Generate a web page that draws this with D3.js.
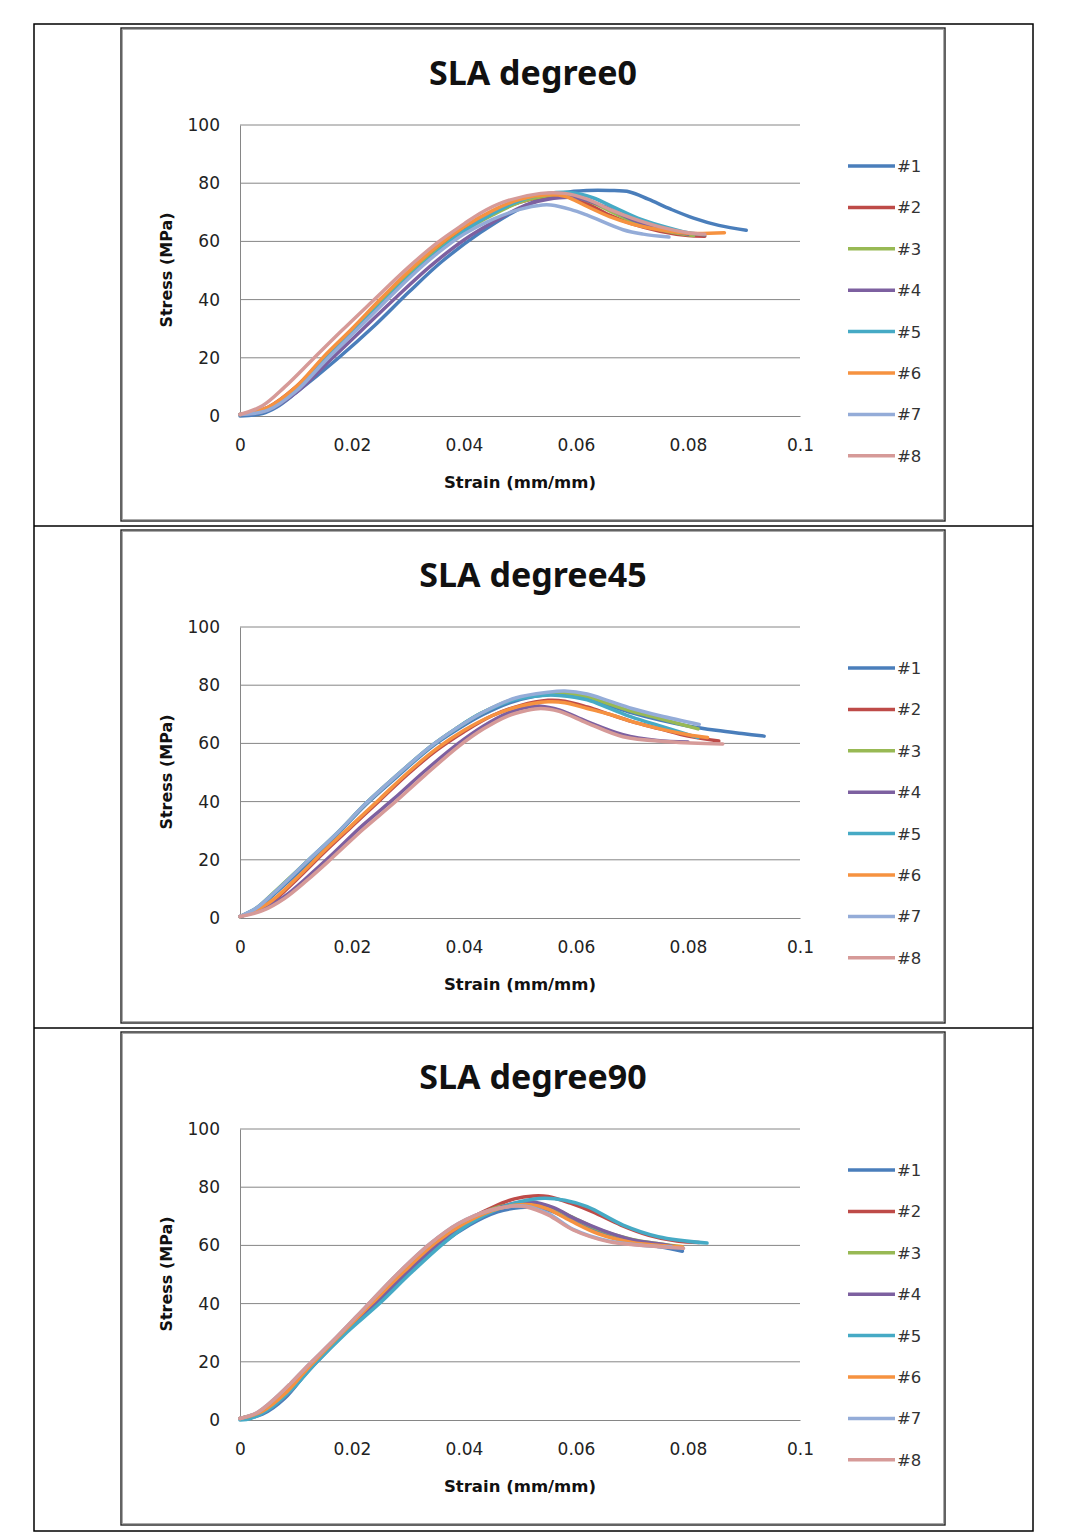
<!DOCTYPE html>
<html><head><meta charset="utf-8">
<script src="https://cdn.jsdelivr.net/npm/d3@7/dist/d3.min.js"></script>
<style>body{margin:0;background:#fff}svg{display:block}</style>
</head><body>
<svg id="c" width="1083" height="1534"></svg>
<script>
const titles = ["SLA degree0", "SLA degree45", "SLA degree90"];
const seriesNames = ["#1","#2","#3","#4","#5","#6","#7","#8"];
const seriesColors = ["#4A7EBB","#BE4B48","#98B954","#7D60A0","#46AAC5","#F69240","#94ACD8","#D69A98"];
const xTicks = [0, 0.02, 0.04, 0.06, 0.08, 0.1];
const yTicks = [0, 20, 40, 60, 80, 100];

// [strain, stress] pairs per specimen
const deg0 = [
 [[0,0],[0.004,0.8],[0.0065,3],[0.01,8],[0.0173,19.5],[0.024,31],[0.0301,42.5],[0.036,53],[0.0429,63],[0.0492,70.5],[0.0537,74.5],[0.058,76.8],[0.062,77.5],[0.066,77.5],[0.0696,77],[0.0729,74.5],[0.077,71],[0.081,68],[0.0855,65.5],[0.0904,63.8]],
 [[0,0.5],[0.005,3],[0.01,10],[0.015,20],[0.02,29.5],[0.025,39],[0.03,48.5],[0.035,57],[0.04,64],[0.045,69.5],[0.05,73.5],[0.055,75.5],[0.058,75.5],[0.062,73],[0.066,69],[0.07,66],[0.075,63.5],[0.08,62],[0.083,61.8]],
 [[0,0.5],[0.005,2.8],[0.01,9.5],[0.015,19.5],[0.02,29],[0.025,38.5],[0.03,48],[0.035,56.5],[0.04,63.5],[0.045,69],[0.05,73.5],[0.055,75.8],[0.058,76],[0.062,74],[0.066,70.5],[0.07,67],[0.075,64],[0.081,62]],
 [[0,0.5],[0.005,2],[0.01,8],[0.016,19],[0.022,30],[0.028,41],[0.034,51.5],[0.04,60.5],[0.046,67.5],[0.051,72.5],[0.055,74.5],[0.06,75],[0.065,72],[0.07,67.5],[0.075,64.5],[0.08,62.5]],
 [[0,0.5],[0.005,2.5],[0.01,9],[0.015,19],[0.02,28.5],[0.025,38],[0.03,47.5],[0.035,56],[0.04,63.5],[0.045,69.5],[0.05,74],[0.055,76.5],[0.059,76.8],[0.063,75],[0.067,71.5],[0.071,68],[0.075,65.5],[0.08,63],[0.083,62.3]],
 [[0,0.5],[0.005,3],[0.01,10],[0.015,20.5],[0.02,30],[0.025,40],[0.03,49.5],[0.035,58],[0.04,65],[0.045,70.5],[0.05,74.5],[0.055,76],[0.058,75.5],[0.062,72],[0.066,68.5],[0.07,66],[0.075,64],[0.08,62.8],[0.0865,63]],
 [[0,0.5],[0.005,2],[0.01,8.5],[0.015,18.5],[0.02,28],[0.025,37.5],[0.03,47],[0.035,55.5],[0.04,62.5],[0.045,67.5],[0.05,71],[0.054,72.5],[0.0555,72.5],[0.059,71],[0.062,69],[0.0684,64],[0.072,62.5],[0.0766,61.5]],
 [[0,0.5],[0.004,3.5],[0.008,10],[0.013,19.5],[0.018,29],[0.0237,39.5],[0.03,51],[0.0352,59.5],[0.04,66],[0.0429,69.7],[0.047,73.5],[0.0537,76.5],[0.058,76.5],[0.062,74.5],[0.066,71],[0.07,68],[0.075,65],[0.08,63],[0.083,62.5]]
];
const deg45 = [
 [[0,0.5],[0.003,3],[0.006,8],[0.0125,19.5],[0.0175,29],[0.0225,39],[0.028,48.5],[0.034,58.5],[0.039,65],[0.0435,70],[0.049,74.5],[0.054,76.5],[0.058,76.8],[0.062,75.5],[0.066,73],[0.07,70.5],[0.075,68],[0.08,66],[0.085,64.5],[0.09,63.3],[0.0936,62.5]],
 [[0,0.5],[0.005,4.5],[0.01,13],[0.015,22.5],[0.02,31.5],[0.025,40.5],[0.03,49.5],[0.035,57.5],[0.04,64],[0.045,69.5],[0.05,73],[0.055,74.8],[0.058,74.5],[0.062,72.5],[0.066,70],[0.07,67.5],[0.075,65],[0.08,62.5],[0.0855,60.8]],
 [[0,0.5],[0.003,3.5],[0.0059,8.5],[0.0123,20],[0.0175,29.5],[0.0225,39.4],[0.028,49],[0.034,58.9],[0.0385,65],[0.043,70.3],[0.049,75.3],[0.054,77],[0.057,77.5],[0.062,76],[0.066,73.5],[0.07,71],[0.075,68.5],[0.0818,65]],
 [[0,0.5],[0.004,3],[0.008,7.5],[0.012,14],[0.016,21],[0.022,32],[0.0275,41],[0.033,50.5],[0.039,60],[0.0435,66],[0.0479,70.5],[0.051,72.3],[0.0537,72.8],[0.057,71.5],[0.062,67.5],[0.0684,63],[0.0745,61],[0.08,60.5]],
 [[0,0.5],[0.003,3.5],[0.006,8.5],[0.0123,20],[0.0175,29.5],[0.0225,39.4],[0.028,49],[0.034,58.9],[0.0385,65],[0.043,70.3],[0.049,75],[0.054,76.5],[0.057,76.5],[0.062,75],[0.066,72],[0.07,69],[0.075,66],[0.0818,62]],
 [[0,0.5],[0.005,5],[0.01,13.5],[0.015,23],[0.02,32],[0.025,41],[0.03,50],[0.035,58],[0.04,64.5],[0.045,69.5],[0.05,72.8],[0.055,74.3],[0.058,74],[0.062,72],[0.066,70],[0.07,67.5],[0.075,65],[0.08,63],[0.0835,62]],
 [[0,0.5],[0.003,3.5],[0.006,8.5],[0.0123,20],[0.0175,29.5],[0.0225,39.4],[0.028,49],[0.034,58.9],[0.0385,65],[0.043,70.3],[0.0492,75.6],[0.055,77.6],[0.058,78],[0.062,77],[0.066,74.5],[0.07,72],[0.075,69.5],[0.082,66.5]],
 [[0,0.5],[0.004,2.5],[0.008,6.8],[0.012,13],[0.0161,20],[0.022,30.5],[0.0275,39.5],[0.033,49],[0.039,58.9],[0.0435,65],[0.0479,69.5],[0.051,71.2],[0.0537,72],[0.057,71],[0.062,67],[0.0684,62.3],[0.0766,60.6],[0.0862,59.8]]
];
const deg90 = [
 [[0,0.3],[0.004,2],[0.008,7.5],[0.013,19],[0.0185,29.5],[0.0245,40],[0.03,50],[0.036,60.5],[0.041,67],[0.046,71.5],[0.05,73],[0.053,73],[0.056,71.5],[0.06,68],[0.065,64],[0.07,61],[0.075,59.5],[0.079,58]],
 [[0,0.5],[0.004,3],[0.008,9],[0.012,17.5],[0.0175,28.5],[0.0235,40],[0.029,50.5],[0.035,61],[0.04,68],[0.045,73],[0.049,76],[0.0524,77],[0.055,76.8],[0.059,74.5],[0.063,71.5],[0.068,67],[0.073,63.5],[0.078,61.5],[0.082,61]],
 [[0,0.5],[0.004,3],[0.008,8.5],[0.012,17],[0.0175,28],[0.0235,39.5],[0.029,50],[0.035,60.5],[0.04,67.5],[0.045,72.5],[0.049,74.3],[0.052,74.5],[0.055,73.5],[0.059,70],[0.064,65.5],[0.07,62],[0.075,60.5],[0.079,59.5]],
 [[0,0.5],[0.004,2.5],[0.008,8],[0.012,16.5],[0.0175,27.5],[0.0235,39],[0.029,49.5],[0.035,60],[0.04,67],[0.045,72],[0.049,74.5],[0.052,75],[0.056,73],[0.06,69],[0.065,65],[0.07,62],[0.075,60.5],[0.078,59.5]],
 [[0,0],[0.002,0.6],[0.005,3.5],[0.009,10],[0.0135,19.5],[0.019,30],[0.025,40.2],[0.0305,50.5],[0.0364,60.8],[0.041,67.5],[0.046,72.5],[0.05,75],[0.0543,76.2],[0.058,75.5],[0.062,73.3],[0.0684,67],[0.0747,63],[0.0834,60.8]],
 [[0,0.5],[0.004,3],[0.008,9],[0.012,17.5],[0.0175,28.5],[0.0235,40],[0.029,50.5],[0.035,61],[0.04,67.5],[0.045,72],[0.049,73.8],[0.052,74],[0.055,72.5],[0.059,68.5],[0.064,64],[0.07,61],[0.075,60],[0.079,59.5]],
 [[0,0.5],[0.003,2.5],[0.006,7],[0.009,12.5],[0.012,18.5],[0.017,28],[0.0224,38.8],[0.028,50],[0.0339,60.5],[0.039,67.5],[0.0445,72],[0.049,73.5],[0.051,73.5],[0.055,71],[0.0595,65.5],[0.0658,61.5],[0.072,60],[0.077,59.5]],
 [[0,0.5],[0.003,2.5],[0.006,7],[0.009,12.5],[0.012,18.5],[0.017,28],[0.0224,38.8],[0.028,50],[0.0339,60.5],[0.039,67.5],[0.0445,72],[0.049,73.5],[0.051,73.3],[0.055,70.5],[0.0595,65.3],[0.0658,61.3],[0.072,60],[0.0792,59]]
];
const datasets = [deg0, deg45, deg90];

const svg = d3.select("#c");
const font = "'DejaVu Sans', 'Noto Sans', sans-serif";
const titleFont = "'Noto Sans', 'DejaVu Sans', sans-serif";

// outer table lines
const tbl = svg.append("g").attr("stroke", "#000").attr("stroke-width", 1.5).attr("fill", "none");
tbl.append("rect").attr("x", 34).attr("y", 24).attr("width", 999).attr("height", 1507);
[526, 1028].forEach(y => tbl.append("line").attr("x1", 34).attr("x2", 1033).attr("y1", y).attr("y2", y));

const panelTops = [27, 529, 1031];

panelTops.forEach((top, pi) => {
  const g = svg.append("g").attr("transform", `translate(0,${top})`);
  // chart box
  g.append("rect").attr("x", 121).attr("y", 1).attr("width", 824).attr("height", 493)
    .attr("fill", "#fff").attr("stroke", "#222").attr("stroke-width", 1.4);
  g.append("rect").attr("x", 122.5).attr("y", 2.5).attr("width", 821).attr("height", 490)
    .attr("fill", "none").attr("stroke", "#aaa").attr("stroke-width", 1);

  const x = d3.scaleLinear().domain([0, 0.1]).range([240, 800]);
  const y = d3.scaleLinear().domain([0, 100]).range([389, 98]);

  // gridlines
  g.append("g").selectAll("line").data(yTicks.filter(d => d > 0)).join("line")
    .attr("x1", 240).attr("x2", 800).attr("y1", d => y(d)).attr("y2", d => y(d))
    .attr("stroke", "#868686").attr("stroke-width", 1);

  // axes
  const ya = g.append("g").attr("transform", "translate(240,0)")
    .call(d3.axisLeft(y).tickValues(yTicks).tickSize(0).tickPadding(20));
  ya.select(".domain").attr("stroke", "#868686");
  const xa = g.append("g").attr("transform", `translate(0,${y(0)})`)
    .call(d3.axisBottom(x).tickValues(xTicks).tickSize(0).tickPadding(23).tickFormat(d3.format("~g")));
  xa.select(".domain").attr("stroke", "#868686");
  g.selectAll(".tick text").attr("font-family", font).attr("font-size", 17).attr("fill", "#222");

  // title
  g.append("text").attr("x", 533).attr("y", 58).attr("text-anchor", "middle")
    .attr("font-family", titleFont).attr("font-weight", "bold").attr("font-size", 34).attr("fill", "#111")
    .text(titles[pi]);
  // axis titles
  g.append("text").attr("x", 520).attr("y", 461).attr("text-anchor", "middle")
    .attr("font-family", font).attr("font-weight", "bold").attr("font-size", 16.5).attr("fill", "#111")
    .text("Strain (mm/mm)");
  g.append("text").attr("transform", "translate(172,243) rotate(-90)").attr("text-anchor", "middle")
    .attr("font-family", font).attr("font-weight", "bold").attr("font-size", 16).attr("fill", "#111")
    .text("Stress (MPa)");

  // lines
  const line = d3.line().x(d => x(d[0])).y(d => y(d[1])).curve(d3.curveCatmullRom.alpha(0.5));
  g.append("g").selectAll("path").data(datasets[pi]).join("path")
    .attr("d", line).attr("fill", "none")
    .attr("stroke", (d, i) => seriesColors[i]).attr("stroke-width", 3.5)
    .attr("stroke-linecap", "round").attr("stroke-linejoin", "round");

  // legend
  const lg = g.append("g").selectAll("g").data(seriesNames).join("g")
    .attr("transform", (d, i) => `translate(848,${139 + i * 41.4})`);
  lg.append("line").attr("x1", 0).attr("x2", 47).attr("y1", 0).attr("y2", 0)
    .attr("stroke", (d, i) => seriesColors[i]).attr("stroke-width", 3.5);
  lg.append("text").attr("x", 49).attr("y", 6).attr("font-family", font).attr("font-size", 16.5)
    .attr("fill", "#333").text(d => d);
});
</script>
</body></html>
